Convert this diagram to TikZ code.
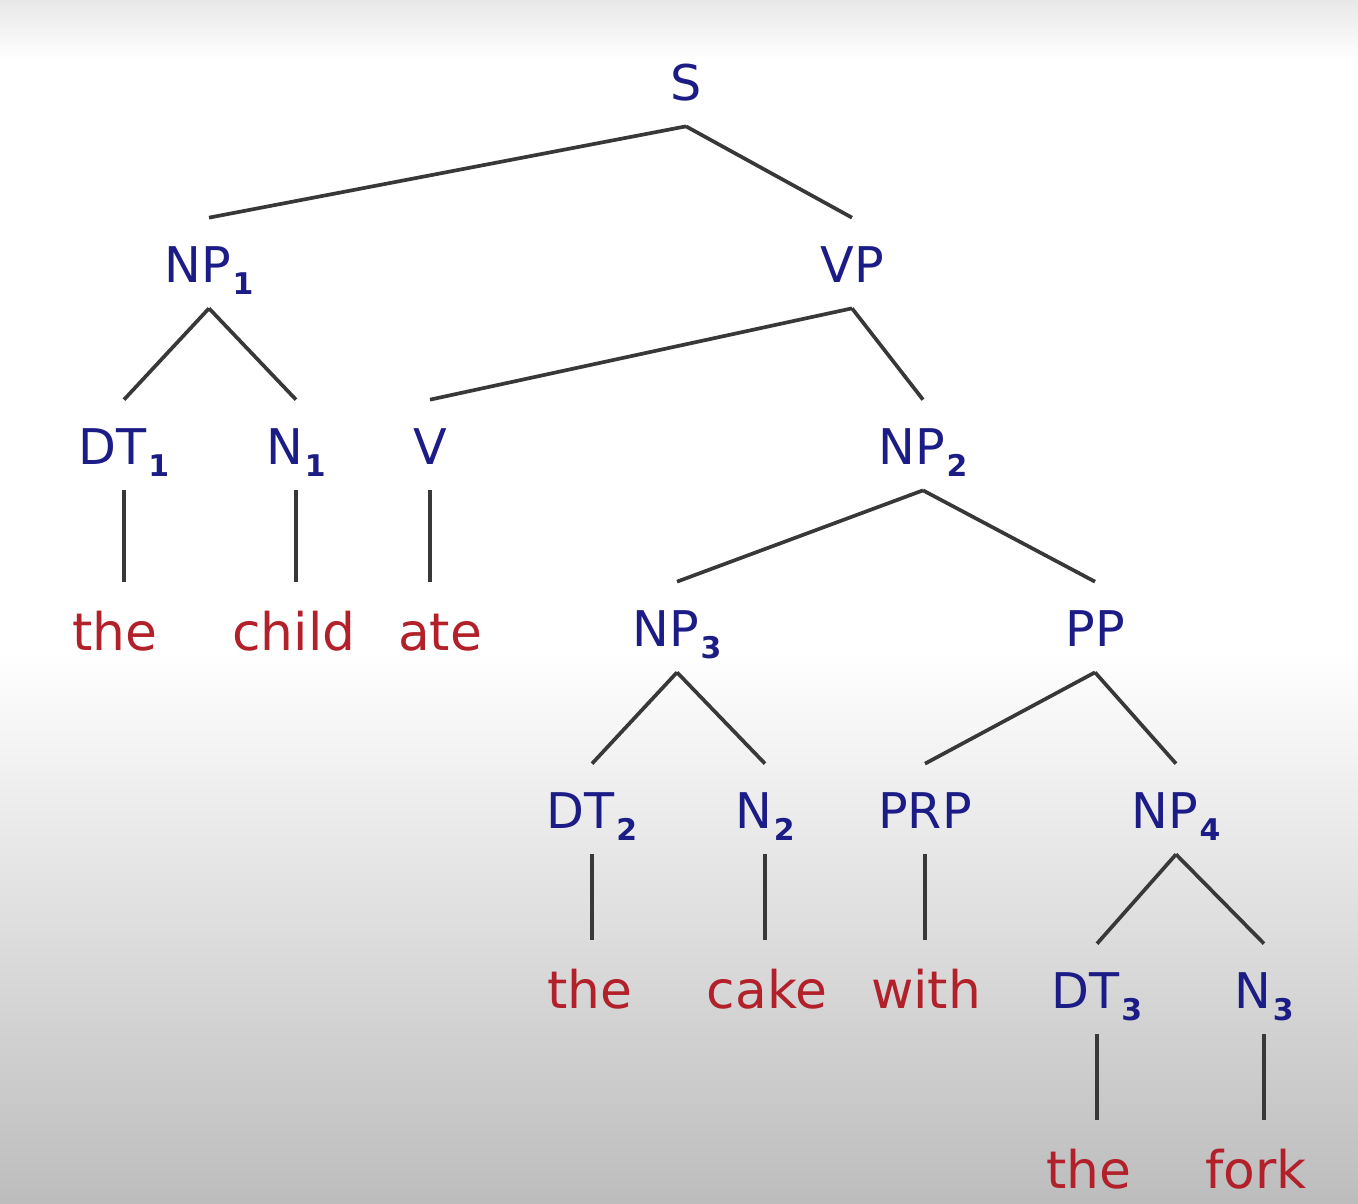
\documentclass[tikz,border=0pt]{standalone}
\usepackage{fontspec}
\setmainfont{DejaVu Sans}
\definecolor{labblue}{RGB}{28,28,135}
\definecolor{wordred}{RGB}{178,32,42}
\tikzset{
	cat/.style={text=labblue,font=\fontsize{28}{28}\selectfont,inner sep=0pt,anchor=base,text height=1.28cm,text depth=0.52cm},
	word/.style={text=wordred,font=\fontsize{29.5}{30}\selectfont,inner sep=0pt,anchor=base,text height=1.36cm,text depth=0pt},
	branch/.style={draw=black!78,line width=2.1pt}
}
\newcommand{\idx}[1]{\kern1pt\raisebox{-0.25em}{\fontsize{17}{17}\selectfont\bfseries #1}}
\begin{document}
\begin{tikzpicture}[x=0.02cm,y=-0.02cm]
		\useasboundingbox (0,0) rectangle (1358,1203);
		\shade[top color=black!9,bottom color=white] (0,0) rectangle (1358,60);
		\shade[top color=white,bottom color=black!26] (0,650) rectangle (1358,1203);
		% categories
		\node[cat] (s) at (686,100) {S};
		\node[cat] (npa) at (209,282) {NP\idx{1}};
		\node[cat] (vp) at (852,282) {VP};
		\node[cat] (dta) at (124,464) {DT\idx{1}};
		\node[cat] (na) at (296,464) {N\idx{1}};
		\node[cat] (v) at (430,464) {V};
		\node[cat] (npb) at (923,464) {NP\idx{2}};
		\node[cat] (npc) at (677,646) {NP\idx{3}};
		\node[cat] (pp) at (1095,646) {PP};
		\node[cat] (dtb) at (592,828) {DT\idx{2}};
		\node[cat] (nb) at (765,828) {N\idx{2}};
		\node[cat] (prp) at (925,828) {PRP};
		\node[cat] (npd) at (1176,828) {NP\idx{4}};
		\node[cat] (dtc) at (1097,1008) {DT\idx{3}};
		\node[cat] (nc) at (1264,1008) {N\idx{3}};
		% words
		\node[word] (the1) at (115,650) {the};
		\node[word] (child) at (294,650) {child};
		\node[word] (ate) at (440,650) {ate};
		\node[word] (the2) at (590,1008) {the};
		\node[word] (cake) at (767,1008) {cake};
		\node[word] (with) at (926,1008) {with};
		\node[word] (the3) at (1089,1188) {the};
		\node[word] (fork) at (1256,1188) {fork};
		% branches
		\foreach \p/\c in {s/npa,s/vp,npa/dta,npa/na,vp/v,vp/npb,npb/npc,npb/pp,npc/dtb,npc/nb,pp/prp,pp/npd,npd/dtc,npd/nc}
			\draw[branch] (\p.south) -- (\c.north);
		\foreach \p/\c in {dta/the1,na/child,v/ate,dtb/the2,nb/cake,prp/with,dtc/the3,nc/fork}
			\draw[branch] (\p.south) -- (\p.south |- \c.north);
\end{tikzpicture}
\end{document}
